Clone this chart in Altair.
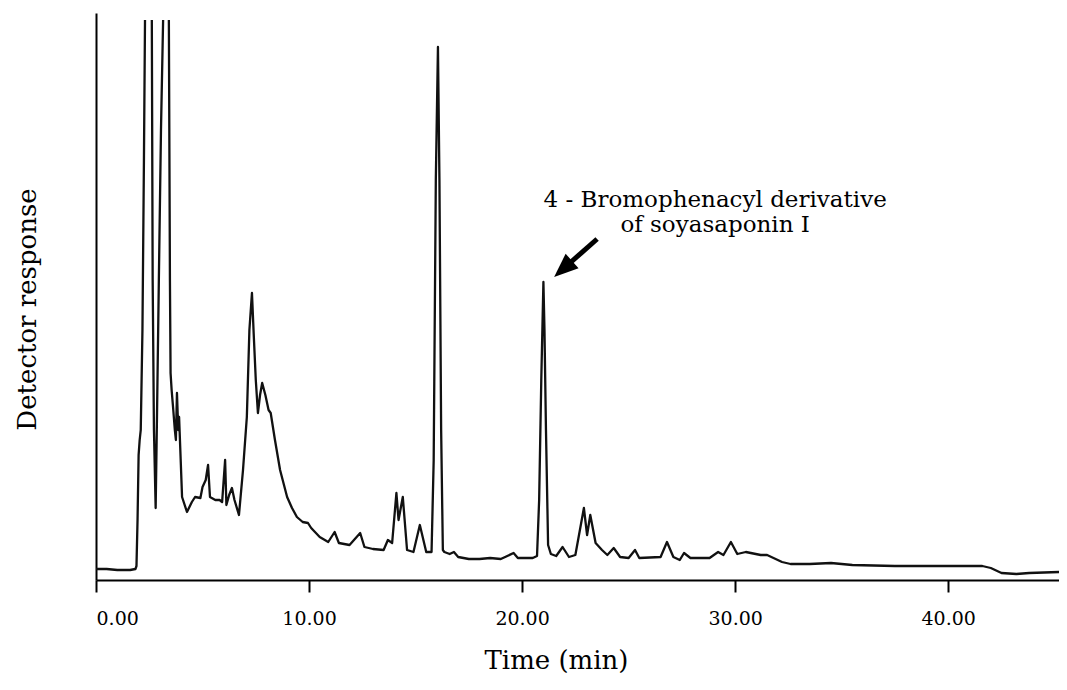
import altair as alt
import pandas as pd

# ---- chromatogram trace (time in min, detector response in arbitrary units) ----
# segment 1: baseline up to the first off-scale peak
seg1_t = [0.0, 0.5, 1.0, 1.6, 1.85, 1.9, 1.95, 2.0, 2.05, 2.1, 2.18, 2.25, 2.3]
seg1_v = [11, 11, 10, 10, 11, 14, 60, 125, 140, 150, 250, 420, 560]
# segment 2: between the two off-scale peaks
seg2_t = [2.62, 2.66, 2.72, 2.8, 2.86, 2.95, 3.05, 3.15]
seg2_v = [560, 300, 150, 72, 160, 300, 450, 560]
# segment 3: rest of the run
seg3_t = [3.42, 3.47, 3.5, 3.55, 3.62, 3.7, 3.75, 3.8, 3.86, 3.9, 4.04, 4.27, 4.5, 4.65,
          4.9, 5.0, 5.15, 5.26, 5.35, 5.6, 5.8, 5.92, 6.06, 6.12, 6.25, 6.38, 6.5, 6.71,
          6.9, 7.08, 7.2, 7.32, 7.4, 7.5, 7.6, 7.7, 7.8, 7.95, 8.1, 8.2, 8.4, 8.64, 8.97,
          9.2, 9.43, 9.7, 9.95, 10.1, 10.5, 10.9, 11.2, 11.4, 11.9, 12.4, 12.6, 13.0, 13.5,
          13.7, 13.9, 14.1, 14.2, 14.4, 14.6, 14.9, 15.2, 15.5, 15.75, 15.85, 15.95, 16.05,
          16.12, 16.2, 16.28, 16.35, 16.6, 16.8, 17.0, 17.5, 18.0, 18.5, 19.0, 19.6, 19.8,
          20.5, 20.7, 20.8, 20.9, 21.0, 21.05, 21.12, 21.22, 21.35, 21.6, 21.9, 22.2, 22.5,
          22.9, 23.05, 23.2, 23.45, 23.75, 24.0, 24.3, 24.6, 25.0, 25.3, 25.5, 26.5, 26.8,
          27.1, 27.4, 27.6, 27.9, 28.8, 29.2, 29.45, 29.8, 30.1, 30.5, 31.2, 31.5, 31.8,
          32.2, 32.6, 33.5, 34.5, 35.5, 37.5, 39.5, 41.6, 42.0, 42.5, 43.2, 43.8, 45.2]
seg3_v = [560, 300, 207, 190, 172, 150, 140, 187, 150, 163, 83, 68, 78, 83,
          82, 93, 100, 115, 83, 80, 80, 78, 120, 75, 85, 92, 80, 65,
          110, 163, 250, 287, 247, 200, 167, 185, 197, 185, 170, 167, 140, 110, 83,
          72, 63, 58, 57, 52, 43, 38, 48, 37, 35, 47, 33, 31, 30,
          40, 37, 87, 60, 83, 30, 28, 55, 28, 28, 120, 400, 533,
          400, 150, 30, 28, 26, 28, 23, 21, 21, 22, 21, 27, 22,
          22, 24, 80, 200, 298, 250, 150, 35, 26, 24, 33, 23, 25,
          72, 45, 65, 37, 30, 25, 32, 23, 22, 30, 22, 23, 38,
          23, 20, 27, 22, 22, 28, 25, 38, 26, 28, 25, 25, 22,
          18, 16, 16, 17, 15, 14, 14, 14, 12, 7, 6, 7, 8]

x_ticks = [0, 10, 20, 30, 40]
x_domain = [0, 45.2]
y_domain = [0, 567]

# annotation
label_lines = ["4 - Bromophenacyl derivative", "of soyasaponin I"]
label_t = [29.06, 29.06]
label_v = [373, 348]
arrow_tail = (23.52, 341)
arrow_head = (22.03, 313)

FONT = "DejaVu Serif"

rows = []
idx = 0
for seg_id, (ts, vs) in enumerate([(seg1_t, seg1_v), (seg2_t, seg2_v), (seg3_t, seg3_v)]):
    for t, v in zip(ts, vs):
        rows.append({"t": t, "v": v, "seg": seg_id, "i": idx})
        idx += 1
trace = pd.DataFrame(rows)

x_scale = alt.Scale(domain=x_domain, nice=False, zero=False)
y_scale = alt.Scale(domain=y_domain, nice=False)

line = alt.Chart(trace).mark_line(color="#111111", strokeWidth=2.3, clip=True,
                                  strokeJoin="round").encode(
    x=alt.X("t:Q", scale=x_scale,
            axis=alt.Axis(values=x_ticks, format=".2f", title="Time (min)", grid=False,
                          domainColor="#000000", domainWidth=2, tickColor="#000000",
                          tickWidth=2, tickSize=12, labelFont=FONT, labelFontSize=19,
                          labelColor="#000000", labelPadding=17, titleFont=FONT,
                          titleFontSize=26, titleFontWeight="normal", titleColor="#000000",
                          titleX=460, titleY=88, titleBaseline="alphabetic")),
    y=alt.Y("v:Q", scale=y_scale,
            axis=alt.Axis(ticks=False, labels=False, grid=False, domainColor="#000000",
                          domainWidth=2, title="Detector response", titleFont=FONT,
                          titleFontSize=26, titleFontWeight="normal", titleColor="#000000",
                          titleAngle=270, titleX=-61, titleY=296,
                          titleBaseline="alphabetic")),
    detail="seg:N",
    order="i:Q",
)

text_df = pd.DataFrame({"t": label_t, "v": label_v, "txt": label_lines})
text = alt.Chart(text_df).mark_text(font=FONT, fontSize=23, color="#000000",
                                    align="center", baseline="alphabetic").encode(
    x=alt.X("t:Q", scale=x_scale), y=alt.Y("v:Q", scale=y_scale), text="txt:N")

arrow_df = pd.DataFrame({"t": [arrow_tail[0]], "v": [arrow_tail[1]],
                         "t2": [arrow_head[0]], "v2": [arrow_head[1]]})
shaft = alt.Chart(arrow_df).mark_rule(color="#000000", strokeWidth=5).encode(
    x=alt.X("t:Q", scale=x_scale), y=alt.Y("v:Q", scale=y_scale), x2="t2", y2="v2")
head = alt.Chart(arrow_df).mark_point(
    shape="M0,-1L0.65,0.6L-0.65,0.6Z", filled=True, size=900, color="#000000",
    opacity=1, angle=228.5).encode(
    x=alt.X("t2:Q", scale=x_scale), y=alt.Y("v2:Q", scale=y_scale))

chart = alt.layer(line, shaft, head, text).properties(
    width=963, height=567,
    padding={"left": 88, "top": 5, "right": 0, "bottom": 95},
    autosize=alt.AutoSizeParams(type="none"),
    background="#ffffff",
).configure_view(stroke=None)

chart.save("out.html", embed_options={"renderer": "svg", "actions": False})
